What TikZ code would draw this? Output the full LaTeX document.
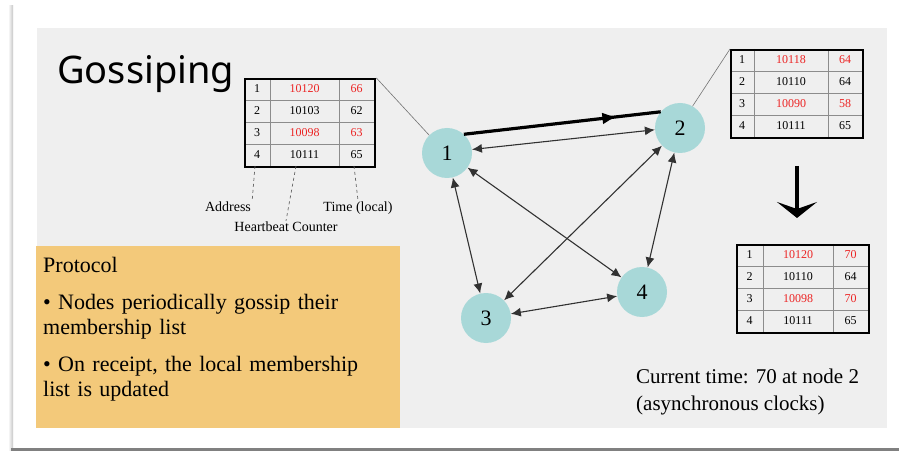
\documentclass[tikz,border=0pt]{standalone}
\usepackage{fontspec}
\setmainfont{Liberation Serif}
\newfontfamily\headfont{Noto Sans}
\usetikzlibrary{arrows.meta,decorations.markings}

\definecolor{panel}{RGB}{239,239,239}
\definecolor{protobg}{RGB}{243,201,122}
\definecolor{peer}{RGB}{168,216,216}
\definecolor{hot}{RGB}{236,36,36}
\definecolor{wire}{RGB}{50,50,50}

\tikzset{
  peernode/.style={circle, fill=peer, minimum size=50pt, inner sep=0pt,
    font=\fontsize{22}{24}\selectfont},
  gossipedge/.style={draw=wire, line width=1.1pt, {Latex[length=10pt,width=9pt]}-{Latex[length=10pt,width=9pt]}},
  rowline/.style={draw=black!45, line width=0.6pt},
  cell/.style={inner sep=0pt, font=\fontsize{12}{14}\selectfont},
  tableframe/.style={draw=black, line width=2.4pt, inner sep=0pt, anchor=north west, minimum height=88pt},
  leader/.style={draw=black!60, line width=0.7pt, dashed},
  pointer/.style={draw=black!55, line width=0.6pt},
  fieldlabel/.style={inner sep=1pt, font=\fontsize{14}{16}\selectfont},
  bodytext/.style={anchor=north west, inner sep=0pt, align=left, text width=350pt,
    font=\fontsize{22}{25}\selectfont},
}

% membership table: name, left x, top y, width, divider 1, divider 2, rows
\newcommand\memtable[7]{%
  \foreach \k in {1,2,3}
    \draw[rowline] ({#2},{#3+22*\k}) -- ({#2+#4},{#3+22*\k});
  \draw[rowline] (#5,#3) -- (#5,{#3+88});
  \draw[rowline] (#6,#3) -- (#6,{#3+88});
  \foreach \id/\addr/\tm/\col [count=\r] in {#7} {
    \node[cell] (#1-n\r) at ({(#2+#5)/2},{#3+22*\r-11}) {\id};
    \node[cell, text=\col] (#1-a\r) at ({(#5+#6)/2},{#3+22*\r-11}) {\addr};
    \node[cell, text=\col] (#1-t\r) at ({(#6+#2+#4)/2},{#3+22*\r-11}) {\tm};
  }
  \node[tableframe, minimum width=#4pt] (#1) at (#2,#3) {};
}

\begin{document}
\begin{tikzpicture}[x=1pt,y=-1pt]
\useasboundingbox (0,0) rectangle (899,454);
\fill[white] (0,0) rectangle (899,454);

% slide frame with its shadow
\shade[left color=white, right color=black!22] (8,6) rectangle (13,450);
\fill[black!50] (11,448) rectangle (899,451);
\fill[panel] (37,28) rectangle (887,428);

% title
\node[anchor=base west, inner sep=0pt, font=\headfont\fontsize{38}{40}\selectfont] (title) at (57,84) {Gossiping};

% protocol box
\fill[protobg] (36,246) rectangle (400,428);
\node[bodytext] (protocol) at (43,257) {Protocol\\[12pt]
  \textbullet{} Nodes periodically gossip their\\ membership list\\[12pt]
  \textbullet{} On receipt, the local membership\\ list is updated};

% peers
\node[peernode] (n1) at (447,153) {1};
\node[peernode] (n2) at (680,128) {2};
\node[peernode] (n3) at (486,318) {3};
\node[peernode] (n4) at (642,292) {4};

% gossip links
\draw[line width=3.2pt, draw=black,
  postaction={decorate},
  decoration={markings, mark=at position 0.78 with {\arrow{Latex[length=15pt,width=12pt]}}}]
  (n1.48) -- (n2.140);
\draw[gossipedge] (n1.8) -- (n2.184);
\draw[gossipedge] (n1) -- (n3);
\draw[gossipedge] (n1) -- (n4);
\draw[gossipedge] (n2) -- (n3);
\draw[gossipedge] (n2) -- (n4);
\draw[gossipedge] (n3) -- (n4);

% list held at node 1
\memtable{sent}{244}{78}{130}{270}{339}{1/10120/66/hot, 2/10103/62/black, 3/10098/63/hot, 4/10111/65/black}

% list held at node 2 before merging
\memtable{local}{730}{49}{132}{754}{828}{1/10118/64/hot, 2/10110/64/black, 3/10090/58/hot, 4/10111/65/black}

% list at node 2 after merging
\memtable{merged}{736}{244}{132}{763}{833}{1/10120/70/hot, 2/10110/64/black, 3/10098/70/hot, 4/10111/65/black}

% pointers from the lists to their peers
\draw[pointer] (sent.north east) -- (n1.135);
\draw[pointer] (n2.60) -- (local.north west);

% merge arrow
\coordinate (mergetop) at (797,166);
\coordinate (mergebot) at (797,218);
\draw[line width=4pt, -{Stealth[length=16pt,width=40pt,inset=7pt]}] (mergetop) -- (mergebot);

% field labels
\node[fieldlabel] (lbladdr) at (228,207) {Address};
\node[fieldlabel] (lblhb) at (286,227) {Heartbeat Counter};
\node[fieldlabel] (lbltime) at (358,208) {Time (local)};
\coordinate (legaddr) at (255,166);
\coordinate (leghb) at (296,166);
\coordinate (legtime) at (354,166);
\draw[leader] (legaddr) -- (lbladdr.north east);
\draw[leader] (leghb) -- (lblhb.north);
\draw[leader] (legtime) -- (lbltime.north);

% clock note
\node[anchor=north west, inner sep=0pt, align=left, font=\fontsize{21}{27}\selectfont] (clock) at (636,369)
  {Current time: 70 at node 2\\ (asynchronous clocks)};
\end{tikzpicture}
\end{document}
